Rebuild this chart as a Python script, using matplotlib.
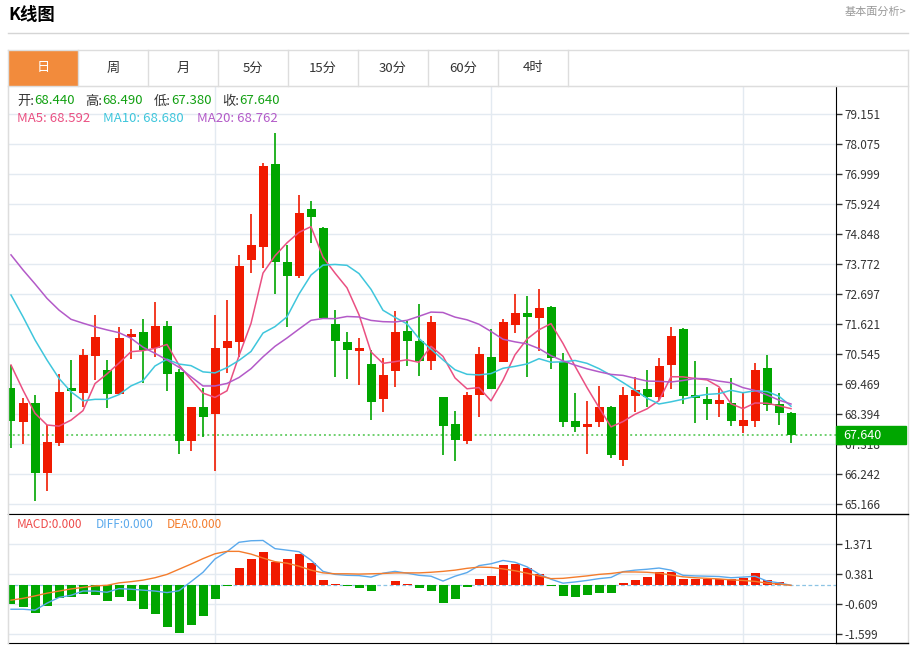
import numpy as np
import pandas as pd
import matplotlib
matplotlib.use('Agg')
import matplotlib.pyplot as plt
from matplotlib.patches import Rectangle
from matplotlib.ticker import FormatStrFormatter
from matplotlib.transforms import blended_transform_factory

plt.rcParams['font.family'] = ['Noto Sans CJK SC', 'DejaVu Sans']

# daily candles
opens = [69.35, 68.11, 68.79, 66.28, 67.37, 69.32, 69.15, 70.48, 69.99, 69.13,
         71.18, 71.33, 70.76, 71.56, 69.90, 67.44, 68.66, 68.39, 70.78, 70.97,
         73.93, 74.38, 77.36, 73.84, 73.36, 75.76, 75.06, 71.63, 71.00, 70.66,
         70.19, 68.93, 69.95, 71.37, 71.03, 70.32, 69.00, 68.05, 67.45, 69.08,
         70.45, 70.28, 71.61, 72.03, 71.86, 72.23, 70.28, 68.16, 67.95, 68.11,
         68.64, 66.75, 69.06, 69.30, 69.02, 70.16, 71.45, 69.08, 68.93, 68.76,
         68.79, 67.98, 68.15, 70.04, 68.75, 68.44]
highs = [70.16, 68.99, 69.08, 68.01, 69.83, 70.34, 70.73, 71.94, 70.34, 71.53,
         71.45, 71.82, 72.42, 71.74, 70.02, 68.66, 69.35, 71.95, 72.49, 74.11,
         75.58, 77.39, 78.49, 74.46, 76.26, 76.05, 75.10, 72.13, 71.33, 71.13,
         70.70, 70.40, 72.10, 71.74, 72.35, 71.93, 69.01, 68.52, 69.18, 70.82,
         71.45, 71.81, 72.70, 72.65, 72.90, 72.28, 70.58, 69.15, 68.87, 69.41,
         68.69, 69.38, 69.74, 69.98, 70.40, 71.53, 71.50, 70.32, 69.38, 69.33,
         69.70, 69.15, 70.24, 70.52, 69.17, 68.49]
lows = [67.20, 67.33, 65.30, 65.65, 67.26, 68.49, 68.67, 69.62, 68.61, 69.08,
        70.38, 69.51, 70.46, 69.24, 66.97, 67.08, 67.59, 66.36, 69.89, 70.46,
        73.47, 73.65, 72.70, 71.53, 73.29, 74.55, 71.84, 69.72, 69.66, 69.44,
        68.19, 68.49, 69.36, 70.14, 69.78, 69.98, 66.93, 66.73, 67.32, 68.31,
        69.31, 70.28, 71.32, 69.74, 70.67, 70.01, 67.95, 67.77, 66.97, 67.95,
        66.83, 66.55, 68.49, 68.64, 68.91, 69.30, 68.76, 68.07, 68.19, 68.31,
        67.99, 67.73, 67.95, 68.52, 68.01, 67.38]
closes = [68.15, 68.81, 66.30, 67.39, 69.19, 69.23, 70.51, 71.15, 69.13, 71.13,
          71.27, 70.70, 71.56, 69.83, 67.44, 68.66, 68.28, 70.78, 71.02, 73.72,
          74.46, 77.31, 73.87, 73.35, 75.60, 75.48, 71.84, 71.02, 70.70, 70.77,
          68.82, 69.79, 71.33, 71.03, 70.32, 71.69, 67.98, 67.47, 69.08, 70.54,
          69.31, 71.69, 72.02, 71.89, 72.21, 70.42, 68.13, 67.95, 68.05, 68.64,
          66.94, 69.08, 69.26, 69.02, 70.14, 71.20, 69.06, 68.97, 68.76, 68.91,
          68.15, 68.19, 69.98, 68.72, 68.45, 67.64]

# moving-average values before the window is full
ma5_head = [70.16, 69.26, 68.43, 68.01]
ma10_head = [72.67, 71.89, 71.06, 70.34, 69.68, 69.20, 68.88, 68.93, 68.93]
ma20_head = [74.11, 73.57, 73.07, 72.55, 72.13, 71.80, 71.66, 71.53, 71.42, 71.32,
             71.12, 70.80, 70.58, 70.34, 70.08, 69.74, 69.41, 69.41, 69.50]

macd_hist = [-0.61, -0.70, -0.92, -0.68, -0.43, -0.37, -0.28, -0.33, -0.51, -0.37,
             -0.52, -0.77, -0.96, -1.36, -1.56, -1.30, -1.02, -0.45, -0.03, 0.56,
             0.86, 1.09, 0.78, 0.86, 1.02, 0.73, 0.19, 0.04, -0.03, -0.09,
             -0.20, 0.01, 0.14, 0.04, -0.10, -0.18, -0.58, -0.44, -0.05, 0.21,
             0.31, 0.66, 0.69, 0.58, 0.37, -0.03, -0.36, -0.37, -0.33, -0.26,
             -0.27, 0.08, 0.17, 0.27, 0.45, 0.45, 0.20, 0.20, 0.20, 0.21,
             0.20, 0.25, 0.40, 0.19, 0.10, 0.0]
diff = [-0.79, -0.79, -0.82, -0.59, -0.40, -0.33, -0.19, -0.19, -0.23, -0.11,
        -0.13, -0.16, -0.19, -0.24, -0.18, 0.12, 0.43, 0.87, 1.11, 1.42,
        1.47, 1.48, 1.21, 1.16, 1.11, 0.83, 0.46, 0.36, 0.33, 0.32,
        0.27, 0.40, 0.46, 0.40, 0.33, 0.30, 0.14, 0.30, 0.42, 0.65,
        0.71, 0.82, 0.76, 0.61, 0.37, 0.20, 0.07, 0.11, 0.16, 0.22,
        0.26, 0.45, 0.50, 0.53, 0.57, 0.50, 0.33, 0.31, 0.30, 0.29,
        0.25, 0.27, 0.30, 0.14, 0.08, 0.0]
dea = [-0.49, -0.43, -0.35, -0.26, -0.19, -0.12, -0.07, -0.02, 0.0, 0.08,
       0.12, 0.17, 0.25, 0.36, 0.53, 0.70, 0.88, 1.04, 1.12, 1.12,
       1.03, 0.90, 0.78, 0.73, 0.63, 0.50, 0.41, 0.38, 0.38, 0.37,
       0.38, 0.39, 0.41, 0.41, 0.41, 0.43, 0.46, 0.50, 0.56, 0.60,
       0.59, 0.54, 0.48, 0.40, 0.31, 0.22, 0.23, 0.27, 0.31, 0.36,
       0.39, 0.44, 0.44, 0.43, 0.40, 0.34, 0.28, 0.25, 0.23, 0.21,
       0.18, 0.16, 0.13, 0.07, 0.04, 0.0]

# header readouts as printed on the chart
ohlc_text = [('开', '68.440'), ('高', '68.490'), ('低', '67.380'), ('收', '67.640')]
ma_text = [('MA5', '68.592'), ('MA10', '68.680'), ('MA20', '68.762')]
macd_text = [('MACD', '0.000'), ('DIFF', '0.000'), ('DEA', '0.000')]

price_ticks = [79.151, 78.075, 76.999, 75.924, 74.848, 73.772, 72.697, 71.621,
               70.545, 69.469, 68.394, 67.318, 66.242, 65.166]
macd_ticks = [1.371, 0.381, -0.609, -1.599]
month_marks = [17, 40, 61]
tabs = ['日', '周', '月', '5分', '15分', '30分', '60分', '4时']

RED, GREEN = '#f01a00', '#00a600'
GRID = '#e3eaf1'
DARK = '#333333'
MA_COLORS = ['#ea5082', '#3fc6dc', '#b35ac8']
MACD_COLORS = ['#ee4b4b', '#5aa9ec', '#f47c2c']

o = np.array(opens); h = np.array(highs); l = np.array(lows); c = np.array(closes)
n = len(c)
x = np.arange(n)

cs = pd.Series(c)
ma5 = cs.rolling(5).mean().to_numpy(); ma5[:4] = ma5_head
ma10 = cs.rolling(10).mean().to_numpy(); ma10[:9] = ma10_head
ma20 = cs.rolling(20).mean().to_numpy(); ma20[:19] = ma20_head

W, H = 912, 645
fig = plt.figure(figsize=(W / 100, H / 100), dpi=100)


def frac(x0, y0, x1, y1):
    return [x0 / W, 1 - y1 / H, (x1 - x0) / W, (y1 - y0) / H]


ax = fig.add_axes(frac(8, 86, 836, 514))
mx = fig.add_axes(frac(8, 514, 836, 643))

# ---- price panel
cols = np.where(c >= o, RED, GREEN)
ax.vlines(x, l, h, colors=cols, lw=1.2, zorder=3)
ax.bar(x, np.maximum(np.abs(c - o), 0.05), bottom=np.minimum(o, c), width=0.75,
       color=cols, lw=0, zorder=4)
for ma, col in zip([ma5, ma10, ma20], MA_COLORS):
    ax.plot(x, ma, color=col, lw=1.1, zorder=5)

ax.set_xlim(-0.25, 68.75)
ax.set_ylim(64.818, 80.166)
ax.set_yticks(price_ticks)
ax.yaxis.set_major_formatter(FormatStrFormatter('%.3f'))
ax.set_xticks([])
ax.grid(axis='y', color=GRID, lw=1, zorder=0)
for m in month_marks:
    ax.axvline(m, color=GRID, lw=1, zorder=0)
ax.yaxis.tick_right()
ax.tick_params(axis='y', length=4, width=1, color=DARK, labelsize=8.5,
               labelcolor=DARK, pad=2)
for s in ['top', 'left']:
    ax.spines[s].set_color('#dddddd')
ax.spines['right'].set_color('black')
ax.spines['bottom'].set_color('black')

last = c[-1]
ax.axhline(last, color='#6fd06f', ls=(0, (1, 1.5)), lw=1.4, zorder=2)
tr = blended_transform_factory(ax.transAxes, ax.transData)
ax.add_patch(Rectangle((1.0, last - 0.32), 70 / 828, 0.645, transform=tr,
                       color=GREEN, clip_on=False, zorder=10))
ax.text(1.0 + 7 / 828, last, f'{last:.3f}', transform=tr, color='white',
        fontsize=9, va='center', ha='left', zorder=11, clip_on=False)

# ---- MACD panel
mx.bar(x, macd_hist, width=0.75, color=np.where(np.array(macd_hist) >= 0, RED, GREEN),
       lw=0, zorder=3)
mx.plot(x, diff, color=MACD_COLORS[1], lw=1, zorder=4)
mx.plot(x, dea, color=MACD_COLORS[2], lw=1, zorder=4)
mx.axhline(0, color='#8cc4e4', ls=(0, (3, 2)), lw=0.9, zorder=2)
mx.set_xlim(-0.25, 68.75)
mx.set_ylim(-1.904, 2.353)
mx.set_yticks(macd_ticks)
mx.yaxis.set_major_formatter(FormatStrFormatter('%.3f'))
mx.set_xticks([])
mx.grid(axis='y', color=GRID, lw=1, zorder=0)
for m in month_marks:
    mx.axvline(m, color=GRID, lw=1, zorder=0)
mx.yaxis.tick_right()
mx.tick_params(axis='y', length=4, width=1, color=DARK, labelsize=8.5,
               labelcolor=DARK, pad=2)
mx.spines['left'].set_color('#dddddd')
for s in ['top', 'bottom', 'right']:
    mx.spines[s].set_color('black')

# ---- page furniture (pixel coordinates)
ov = fig.add_axes([0, 0, 1, 1])
ov.set_xlim(0, W)
ov.set_ylim(H, 0)
ov.axis('off')
ov.set_zorder(6)

ov.text(8, 15, 'K线图', fontsize=12.5, fontweight='bold', va='center', ha='left')
ov.text(906, 12, '基本面分析>', fontsize=8, color='#999999', va='center', ha='right')
ov.plot([8, 908], [33, 33], color='#d5d5d5', lw=1)

# tab bar
ov.add_patch(Rectangle((8, 50), 70, 36, color='#f28b3c', lw=0))
ov.plot([8, 908], [50, 50], color='#dddddd', lw=1)
ov.plot([8, 908], [86, 86], color='#dddddd', lw=1)
ov.plot([8, 8], [50, 643], color='#dddddd', lw=1)
ov.plot([908, 908], [50, 643], color='#dddddd', lw=1)
ov.plot([836, 908], [514, 514], color='black', lw=1)
ov.plot([836, 908], [643, 643], color='black', lw=1)
for i, t in enumerate(tabs):
    ov.plot([78 + 70 * i] * 2, [50, 86], color='#dddddd', lw=1)
    ov.text(43 + 70 * i, 68, t, fontsize=9.5, va='center', ha='center',
            color='white' if i == 0 else DARK)

r = fig.canvas.get_renderer()


def seq(x0, y, parts, size, gap):
    xx = x0
    for s, col, sp in parts:
        t = ov.text(xx, y, s, color=col, fontsize=size, va='center', ha='left')
        xx += t.get_window_extent(renderer=r).width + (gap if sp else 0)


VAL = '#11a011'
row1 = []
for k, v in ohlc_text:
    row1 += [(k + ':', DARK, 0), (v, VAL, 1)]
seq(17, 101, row1, 9.5, 11)
seq(17, 119, [(f'{k}: {v}', col, 1) for (k, v), col in zip(ma_text, MA_COLORS)],
    9.5, 13)
seq(17, 525, [(f'{k}:{v}', col, 1) for (k, v), col in zip(macd_text, MACD_COLORS)],
    8.5, 13)

fig.savefig('out.png', dpi=100)
